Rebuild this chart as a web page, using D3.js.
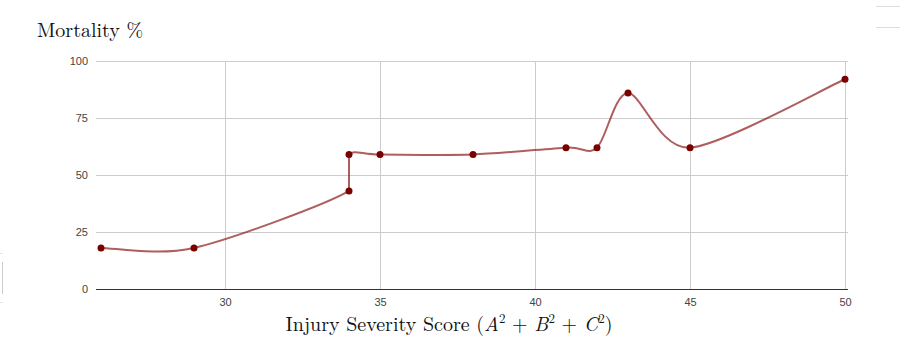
<!DOCTYPE html>
<html>
<head>
<meta charset="utf-8">
<script src="https://cdn.jsdelivr.net/npm/d3@7"></script>
<style>
    body { margin: 0; background: #fff; }
    svg { display: block; }
    .tick text { font-family: Arial, "Liberation Sans", sans-serif; font-size: 11px; fill: #444; }
    .latex { font-family: "Latin Modern Roman", "CMU Serif", "DejaVu Serif", serif; fill: #111; }
</style>
</head>
<body>
<div id="chart"></div>
<script>
    'use strict';

    // data
    const scores = [26, 29, 34, 34, 35, 38, 41, 42, 43, 45, 50];
    const mortality = [18, 18, 43, 59, 59, 59, 62, 62, 86, 62, 92];
    const xTicks = [30, 35, 40, 45, 50];
    const yTicks = [0, 25, 50, 75, 100];

    const data = scores.map(function (s, i) {
        return { x: s, y: mortality[i] };
    });

    const W = 900, H = 340;
    const plot = { left: 96, right: 848, top: 61, bottom: 289 };

    const svg = d3.select('#chart').append('svg').attr('width', W).attr('height', H);

    const xScale = d3.scaleLinear().domain([26, 50]).range([101, 845]);
    const yScale = d3.scaleLinear().domain([0, 100]).range([plot.bottom, plot.top]);

    // horizontal grid
    svg.append('g').selectAll('line').data(yTicks.filter(function (d) { return d > 0; }))
        .enter().append('line')
        .attr('x1', plot.left).attr('x2', plot.right)
        .attr('y1', function (d) { return yScale(d) + 0.5; })
        .attr('y2', function (d) { return yScale(d) + 0.5; })
        .attr('stroke', '#cccccc').attr('stroke-width', 1);

    // vertical grid
    svg.append('g').selectAll('line').data(xTicks)
        .enter().append('line')
        .attr('x1', function (d) { return Math.round(xScale(d)) + 0.5; })
        .attr('x2', function (d) { return Math.round(xScale(d)) + 0.5; })
        .attr('y1', plot.top).attr('y2', plot.bottom)
        .attr('stroke', '#cccccc').attr('stroke-width', 1);

    // y axis labels
    const yAxis = d3.axisLeft(yScale).tickValues(yTicks).tickSize(0).tickPadding(8);
    svg.append('g').attr('transform', 'translate(' + plot.left + ',0)')
        .call(yAxis)
        .call(function (g) { g.select('.domain').remove(); });

    // x axis labels
    const xAxis = d3.axisBottom(xScale).tickValues(xTicks).tickSize(0).tickPadding(9);
    svg.append('g').attr('transform', 'translate(0,' + plot.bottom + ')')
        .call(xAxis)
        .call(function (g) { g.select('.domain').remove(); });

    // baseline
    svg.append('line')
        .attr('x1', plot.left).attr('x2', plot.right)
        .attr('y1', plot.bottom + 0.5).attr('y2', plot.bottom + 0.5)
        .attr('stroke', '#333').attr('stroke-width', 1);

    // smooth series line: cardinal style, but segments with the same x stay straight
    const SMOOTH = 1 / 7;
    const pts = data.map(function (d) { return [xScale(d.x), yScale(d.y)]; });
    const path = d3.path();
    path.moveTo(pts[0][0], pts[0][1]);
    for (let i = 0; i < pts.length - 1; i++) {
        const p0 = pts[Math.max(i - 1, 0)], p1 = pts[i], p2 = pts[i + 1], p3 = pts[Math.min(i + 2, pts.length - 1)];
        if (p1[0] === p2[0]) {
            path.lineTo(p2[0], p2[1]);
            continue;
        }
        path.bezierCurveTo(
            p1[0] + (p2[0] - p0[0]) * SMOOTH, p1[1] + (p2[1] - p0[1]) * SMOOTH,
            p2[0] - (p3[0] - p1[0]) * SMOOTH, p2[1] - (p3[1] - p1[1]) * SMOOTH,
            p2[0], p2[1]);
    }

    svg.append('path')
        .attr('d', path.toString())
        .attr('fill', 'none')
        .attr('stroke', '#8b1a1a')
        .attr('stroke-opacity', 0.7)
        .attr('stroke-width', 2);

    svg.append('g').selectAll('circle').data(data)
        .enter().append('circle')
        .attr('cx', function (d) { return xScale(d.x); })
        .attr('cy', function (d) { return yScale(d.y); })
        .attr('r', 3.5)
        .attr('fill', '#7a0000');

    // titles
    svg.append('text').attr('class', 'latex')
        .attr('x', 37).attr('y', 37)
        .style('font-size', '20px')
        .text('Mortality %');

    const xt = svg.append('text').attr('class', 'latex')
        .attr('x', 449).attr('y', 331)
        .attr('text-anchor', 'middle')
        .style('font-size', '20px');
    xt.append('tspan').text('Injury Severity Score (');
    [['A', ' + '], ['B', ' + '], ['C', ')']].forEach(function (p) {
        xt.append('tspan').style('font-style', 'italic').text(p[0]);
        xt.append('tspan').attr('dy', -8).style('font-size', '13px').text('2');
        xt.append('tspan').attr('dy', 8).text(p[1]);
    });

    // page edge fragments
    svg.append('line').attr('x1', 876).attr('x2', 900).attr('y1', 6.5).attr('y2', 6.5).attr('stroke', '#ddd');
    svg.append('line').attr('x1', 876).attr('x2', 900).attr('y1', 27.5).attr('y2', 27.5).attr('stroke', '#ddd');
    svg.append('line').attr('x1', 2.5).attr('x2', 2.5).attr('y1', 262).attr('y2', 294).attr('stroke', '#ccc');
    svg.append('line').attr('x1', 0).attr('x2', 3).attr('y1', 253.5).attr('y2', 253.5).attr('stroke', '#e4e4e4');
    svg.append('line').attr('x1', 0).attr('x2', 3).attr('y1', 302.5).attr('y2', 302.5).attr('stroke', '#e4e4e4');
</script>
</body>
</html>
